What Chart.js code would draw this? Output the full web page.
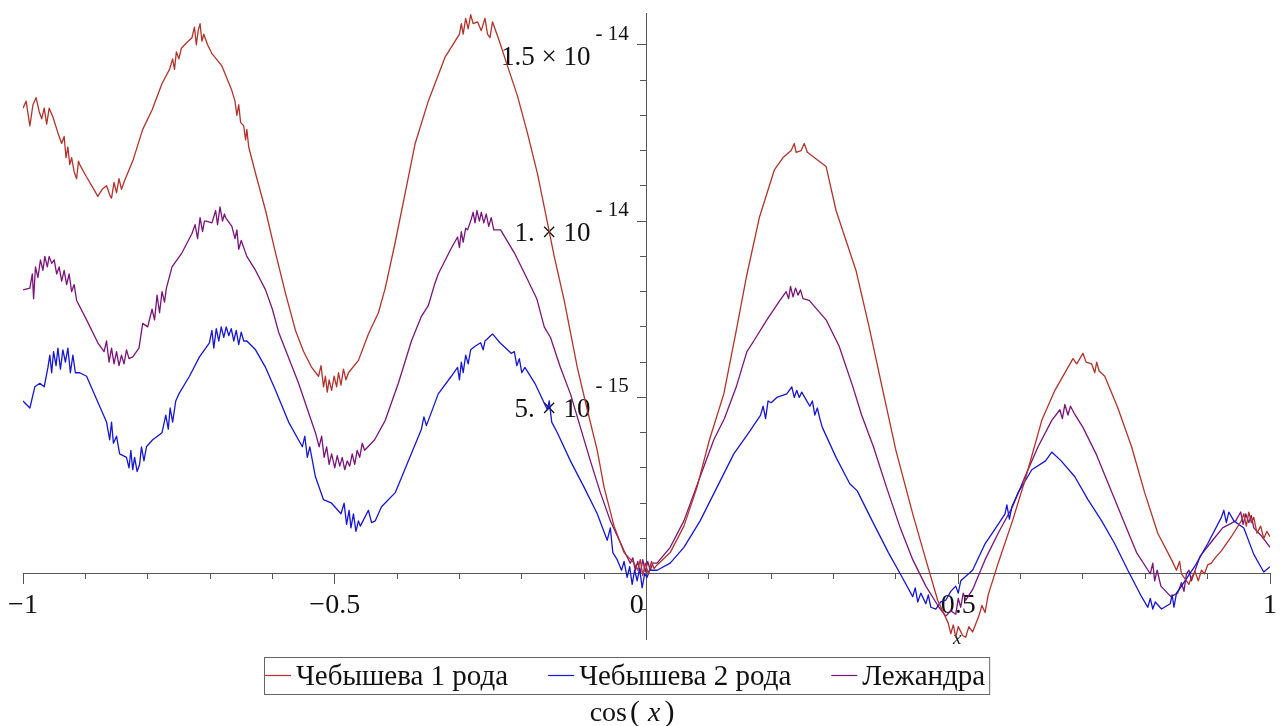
<!DOCTYPE html>
<html><head><meta charset="utf-8">
<script src="https://cdn.jsdelivr.net/npm/chart.js@4.4.0/dist/chart.umd.min.js"></script>
<style>html,body{margin:0;padding:0;background:#fff;overflow:hidden}canvas{display:block}</style>
</head><body>
<canvas id="c" width="1282" height="726"></canvas>
<script>
// y values are in units of 1e-15
const seriesNames = ['Чебышева 1 рода', 'Чебышева 2 рода', 'Лежандра'];
const seriesColors = ['#b3332b', '#1616d6', '#7a147a'];

const chebyshev1 = [
[-1.000,13.2],[-0.995,13.4],[-0.989,12.7],[-0.984,13.3],[-0.979,13.5],[-0.974,13.1],[-0.970,12.9],[-0.966,13.2],[-0.962,12.75],[-0.958,13.2],
[-0.952,12.95],[-0.944,12.5],[-0.938,12.2],[-0.934,12.4],[-0.931,11.8],[-0.928,12.1],[-0.925,11.6],[-0.922,11.8],[-0.918,11.4],[-0.914,11.2],
[-0.911,11.7],[-0.909,11.6],[-0.898,11.25],[-0.888,10.95],[-0.880,10.7],[-0.873,10.9],[-0.866,11.0],[-0.860,10.7],[-0.858,10.65],[-0.854,11.1],
[-0.850,10.8],[-0.846,11.2],[-0.842,10.9],[-0.837,11.15],[-0.824,11.7],[-0.808,12.6],[-0.793,13.15],[-0.777,13.9],[-0.765,14.3],[-0.760,14.6],
[-0.757,14.3],[-0.754,14.8],[-0.750,14.6],[-0.746,14.9],[-0.738,15.05],[-0.729,15.2],[-0.725,15.5],[-0.722,15.0],[-0.719,15.4],[-0.716,15.6],
[-0.713,15.1],[-0.710,15.3],[-0.704,15.0],[-0.697,14.75],[-0.681,14.4],[-0.665,13.7],[-0.660,13.4],[-0.657,13.0],[-0.654,13.3],[-0.651,12.8],
[-0.646,12.7],[-0.643,12.3],[-0.641,12.6],[-0.638,12.1],[-0.627,11.35],[-0.611,10.3],[-0.595,9.1],[-0.579,7.95],[-0.563,6.9],[-0.550,6.3],
[-0.537,5.85],[-0.526,5.6],[-0.522,5.9],[-0.518,5.3],[-0.515,5.6],[-0.512,5.15],[-0.509,5.5],[-0.505,5.2],[-0.501,5.6],[-0.497,5.3],
[-0.494,5.7],[-0.490,5.35],[-0.486,5.8],[-0.482,5.5],[-0.478,5.7],[-0.462,6.05],[-0.446,6.8],[-0.430,7.4],[-0.419,8.1],[-0.403,9.4],
[-0.387,10.8],[-0.371,12.2],[-0.350,13.4],[-0.323,14.65],[-0.307,15.1],[-0.300,15.3],[-0.297,15.6],[-0.294,15.3],[-0.290,15.75],[-0.286,15.45],
[-0.282,15.85],[-0.278,15.6],[-0.271,15.65],[-0.265,15.4],[-0.259,15.75],[-0.255,15.3],[-0.251,15.2],[-0.247,15.65],[-0.235,15.05],[-0.223,14.4],
[-0.207,13.55],[-0.191,12.5],[-0.175,11.35],[-0.164,10.4],[-0.148,9.0],[-0.132,7.75],[-0.111,5.85],[-0.095,4.65],[-0.079,3.5],[-0.068,2.45],
[-0.052,1.35],[-0.036,0.6],[-0.020,0.3],[-0.014,0.1],[-0.010,0.4],[-0.006,-0.05],[-0.002,0.3],[0.003,0.0],[0.008,0.35],[0.012,0.15],
[0.017,0.25],[0.038,0.6],[0.060,1.35],[0.081,2.45],[0.101,3.8],[0.124,5.1],[0.144,6.9],[0.160,8.4],[0.181,10.1],[0.205,11.45],
[0.219,11.8],[0.232,12.0],[0.237,12.2],[0.240,11.95],[0.248,12.0],[0.253,12.2],[0.258,11.95],[0.288,11.55],[0.304,10.3],[0.336,8.6],
[0.357,7.0],[0.379,5.2],[0.400,3.5],[0.427,1.7],[0.448,0.4],[0.467,-0.75],[0.484,-1.4],[0.488,-1.7],[0.492,-1.45],[0.496,-1.8],
[0.500,-1.5],[0.507,-1.75],[0.512,-1.8],[0.517,-1.5],[0.523,-1.65],[0.533,-1.2],[0.538,-0.9],[0.543,-1.1],[0.548,-0.6],[0.564,0.3],
[0.587,1.5],[0.607,2.65],[0.634,4.35],[0.655,5.2],[0.676,5.85],[0.684,6.1],[0.690,5.95],[0.700,6.25],[0.705,6.0],[0.714,5.95],
[0.719,5.7],[0.722,6.0],[0.726,5.75],[0.735,5.6],[0.756,4.7],[0.778,3.6],[0.799,2.3],[0.820,1.15],[0.842,0.4],[0.850,0.1],
[0.855,0.35],[0.858,0.0],[0.864,-0.15],[0.870,-0.3],[0.874,-0.1],[0.880,0.05],[0.885,-0.2],[0.890,0.1],[0.895,0.0],[0.900,0.25],
[0.906,0.3],[0.912,0.45],[0.922,0.65],[0.938,1.05],[0.954,1.5],[0.958,1.7],[0.962,1.35],[0.966,1.75],[0.970,1.45],[0.974,1.6],
[0.979,1.15],[0.985,1.35],[0.990,1.0],[0.995,1.2],[1.000,1.05]
];

const chebyshev2 = [
[-1.000,4.9],[-0.989,4.7],[-0.981,5.3],[-0.973,5.4],[-0.966,5.3],[-0.960,5.85],[-0.957,6.2],[-0.954,5.7],[-0.951,6.3],[-0.947,5.9],
[-0.944,6.4],[-0.940,5.8],[-0.936,6.35],[-0.932,6.0],[-0.928,6.4],[-0.924,5.7],[-0.920,6.2],[-0.916,5.7],[-0.909,5.7],[-0.898,5.6],
[-0.882,4.95],[-0.866,4.3],[-0.861,3.8],[-0.858,4.3],[-0.855,3.7],[-0.850,3.9],[-0.845,3.4],[-0.834,3.3],[-0.830,3.0],[-0.827,3.5],
[-0.824,2.95],[-0.821,3.3],[-0.817,2.9],[-0.813,3.1],[-0.810,3.6],[-0.806,3.2],[-0.802,3.6],[-0.792,3.8],[-0.777,4.0],[-0.771,4.5],
[-0.767,4.1],[-0.764,4.7],[-0.760,4.3],[-0.755,4.9],[-0.750,5.1],[-0.733,5.6],[-0.717,6.15],[-0.701,6.55],[-0.697,6.9],[-0.694,6.4],
[-0.690,6.95],[-0.686,6.6],[-0.682,7.0],[-0.678,6.7],[-0.674,7.0],[-0.670,6.75],[-0.666,6.95],[-0.662,6.6],[-0.658,6.9],[-0.654,6.5],
[-0.650,6.85],[-0.646,6.6],[-0.641,6.6],[-0.627,6.35],[-0.611,5.85],[-0.595,5.2],[-0.574,4.3],[-0.552,3.6],[-0.548,3.9],[-0.544,3.3],
[-0.540,3.6],[-0.531,2.75],[-0.518,2.1],[-0.505,2.0],[-0.490,1.7],[-0.485,2.0],[-0.481,1.4],[-0.477,1.8],[-0.474,1.3],[-0.470,1.7],
[-0.466,1.2],[-0.462,1.5],[-0.459,1.35],[-0.446,1.8],[-0.441,1.45],[-0.435,1.5],[-0.425,1.9],[-0.403,2.3],[-0.382,3.2],[-0.361,4.1],
[-0.357,4.45],[-0.353,4.2],[-0.334,5.1],[-0.313,5.6],[-0.303,5.85],[-0.300,5.5],[-0.297,6.0],[-0.294,5.7],[-0.290,6.2],[-0.286,5.95],
[-0.282,6.35],[-0.275,6.45],[-0.266,6.55],[-0.262,6.35],[-0.259,6.6],[-0.247,6.8],[-0.235,6.55],[-0.217,6.25],[-0.212,6.3],[-0.208,5.9],
[-0.204,6.1],[-0.200,5.7],[-0.195,5.85],[-0.179,5.4],[-0.159,4.65],[-0.156,4.9],[-0.152,4.3],[-0.143,4.0],[-0.122,3.2],[-0.100,2.45],
[-0.079,1.7],[-0.063,0.95],[-0.058,1.3],[-0.054,0.6],[-0.047,0.4],[-0.040,0.1],[-0.036,0.35],[-0.031,-0.1],[-0.027,0.2],[-0.023,-0.3],
[-0.019,0.1],[-0.015,-0.2],[-0.011,0.15],[-0.007,-0.4],[-0.003,0.0],[0.001,-0.1],[0.005,0.1],[0.017,0.1],[0.038,0.3],[0.060,0.75],
[0.086,1.5],[0.113,2.45],[0.140,3.4],[0.166,4.05],[0.183,4.5],[0.187,4.75],[0.191,4.4],[0.195,4.9],[0.200,4.85],[0.209,5.0],
[0.225,5.1],[0.233,5.3],[0.237,5.0],[0.241,5.2],[0.245,5.0],[0.249,5.15],[0.257,4.9],[0.262,4.75],[0.266,4.9],[0.270,4.5],
[0.274,4.7],[0.278,4.4],[0.282,4.15],[0.304,3.3],[0.326,2.55],[0.338,2.35],[0.362,1.5],[0.388,0.6],[0.410,-0.1],[0.427,-0.65],
[0.431,-0.4],[0.435,-0.8],[0.440,-0.55],[0.448,-0.85],[0.452,-0.6],[0.456,-0.95],[0.464,-1.0],[0.472,-0.8],[0.480,-0.75],[0.488,-0.5],
[0.496,-0.35],[0.500,-0.55],[0.504,-0.2],[0.523,0.1],[0.543,0.85],[0.564,1.4],[0.575,1.7],[0.578,1.95],[0.582,1.55],[0.586,1.9],
[0.596,2.3],[0.618,2.95],[0.640,3.2],[0.650,3.45],[0.665,3.2],[0.687,2.75],[0.708,2.1],[0.730,1.5],[0.751,0.85],[0.772,0.1],
[0.794,-0.65],[0.804,-0.95],[0.808,-0.7],[0.812,-1.0],[0.816,-0.8],[0.826,-1.0],[0.840,-0.85],[0.843,-0.6],[0.846,-0.95],[0.850,-0.55],
[0.858,-0.35],[0.879,0.2],[0.900,0.85],[0.922,1.6],[0.926,1.8],[0.930,1.45],[0.934,1.75],[0.942,1.5],[0.958,1.3],[0.974,0.55],
[0.990,0.05],[1.000,0.2]
];

const legendre = [
[-1.000,8.05],[-0.989,8.1],[-0.985,8.5],[-0.983,7.8],[-0.980,8.7],[-0.976,8.4],[-0.972,8.9],[-0.968,8.6],[-0.965,9.0],[-0.961,8.7],
[-0.958,9.0],[-0.954,8.8],[-0.950,8.9],[-0.946,8.5],[-0.942,8.7],[-0.938,8.3],[-0.934,8.6],[-0.930,8.2],[-0.926,8.5],[-0.922,8.0],
[-0.918,8.2],[-0.914,7.75],[-0.898,7.2],[-0.880,6.55],[-0.870,6.3],[-0.866,6.6],[-0.862,6.0],[-0.858,6.4],[-0.854,5.95],[-0.850,6.3],
[-0.846,5.9],[-0.842,6.2],[-0.838,5.95],[-0.834,6.35],[-0.830,6.1],[-0.824,6.15],[-0.814,6.4],[-0.808,7.1],[-0.800,7.0],[-0.793,7.5],
[-0.789,7.2],[-0.785,7.9],[-0.781,7.4],[-0.777,8.0],[-0.773,7.7],[-0.770,8.1],[-0.761,8.7],[-0.745,9.1],[-0.729,9.65],[-0.724,9.9],
[-0.720,9.5],[-0.716,10.1],[-0.712,9.7],[-0.709,10.0],[-0.706,10.0],[-0.697,9.95],[-0.691,10.3],[-0.688,9.9],[-0.684,10.4],[-0.680,10.0],
[-0.677,10.2],[-0.675,10.1],[-0.665,9.85],[-0.660,9.5],[-0.657,9.75],[-0.654,9.2],[-0.650,9.45],[-0.641,9.0],[-0.627,8.6],[-0.611,8.05],
[-0.600,7.5],[-0.590,6.85],[-0.558,5.4],[-0.531,4.0],[-0.525,3.6],[-0.521,3.9],[-0.517,3.3],[-0.513,3.6],[-0.509,3.1],[-0.505,3.4],
[-0.500,3.0],[-0.496,3.35],[-0.492,3.05],[-0.488,3.3],[-0.484,2.95],[-0.480,3.2],[-0.476,3.05],[-0.472,3.4],[-0.468,3.1],[-0.464,3.5],
[-0.460,3.3],[-0.456,3.7],[-0.452,3.5],[-0.436,3.8],[-0.419,4.35],[-0.398,5.4],[-0.377,6.6],[-0.361,7.3],[-0.350,7.6],[-0.340,8.2],
[-0.334,8.5],[-0.314,9.2],[-0.303,9.55],[-0.300,9.25],[-0.297,9.7],[-0.294,9.4],[-0.290,9.8],[-0.287,9.75],[-0.282,10.0],[-0.278,10.25],
[-0.275,9.95],[-0.272,10.3],[-0.268,10.0],[-0.265,10.25],[-0.261,9.95],[-0.257,10.2],[-0.253,9.85],[-0.249,10.1],[-0.245,9.75],[-0.234,9.75],
[-0.212,9.1],[-0.191,8.35],[-0.176,7.8],[-0.164,7.0],[-0.154,6.7],[-0.138,5.85],[-0.122,5.1],[-0.106,4.15],[-0.090,3.2],[-0.074,2.3],
[-0.058,1.5],[-0.036,0.65],[-0.026,0.3],[-0.022,0.45],[-0.018,0.1],[-0.014,0.35],[-0.010,0.0],[-0.006,0.4],[-0.002,0.05],[0.002,0.35],
[0.006,0.1],[0.010,0.3],[0.017,0.3],[0.038,0.75],[0.060,1.5],[0.086,2.75],[0.108,3.8],[0.125,4.4],[0.144,5.3],[0.161,6.3],
[0.172,6.6],[0.193,7.2],[0.214,7.75],[0.224,8.0],[0.228,7.8],[0.231,8.15],[0.235,7.85],[0.239,8.1],[0.243,7.9],[0.247,8.05],
[0.251,7.8],[0.261,7.75],[0.288,7.2],[0.309,6.45],[0.331,5.3],[0.345,4.5],[0.364,3.6],[0.385,2.45],[0.406,1.35],[0.427,0.4],
[0.448,-0.35],[0.469,-0.95],[0.480,-1.2],[0.488,-1.05],[0.496,-1.15],[0.500,-0.7],[0.504,-0.95],[0.508,-0.55],[0.512,-0.75],[0.523,-0.45],
[0.543,0.4],[0.564,1.15],[0.587,1.9],[0.607,2.75],[0.628,3.6],[0.650,4.35],[0.663,4.65],[0.667,4.4],[0.671,4.8],[0.676,4.5],
[0.680,4.75],[0.686,4.55],[0.700,4.15],[0.721,3.4],[0.743,2.45],[0.765,1.5],[0.786,0.6],[0.808,0.0],[0.812,0.3],[0.815,-0.2],
[0.819,0.1],[0.825,-0.35],[0.841,-0.65],[0.852,-0.55],[0.858,-0.25],[0.862,-0.5],[0.866,0.0],[0.870,0.1],[0.874,-0.2],[0.888,0.5],
[0.908,0.95],[0.924,1.3],[0.945,1.5],[0.953,1.75],[0.957,1.4],[0.961,1.7],[0.966,1.45],[0.970,1.65],[0.974,1.3],[0.985,1.1],
[1.000,0.75]
];

const xTickValues = [-1, -0.5, 0, 0.5, 1];
const xTickLabels = ['\u22121', '\u22120.5', '0\u2002\u2009', '0.5', '1'];
const yTickValues = [5, 10, 15];
const yTickMantissa = ['5. \u00d7 10', '1. \u00d7 10', '1.5 \u00d7 10'];
const yTickExponent = ['- 15', '- 14', '- 14'];
const xRange = [-1, 1];
const yRange = [-1.85, 15.9];

const SERIF = '"Liberation Serif", "Times New Roman", serif';
const AXIS_COLOR = '#555';
const TEXT_COLOR = '#111';

function toPoints(pairs) { return pairs.map(p => ({x: p[0], y: p[1]})); }
function keepMultiples(step) {
  return function (scale) {
    scale.ticks = scale.ticks.filter(t => {
      const k = t.value / step;
      return Math.abs(k - Math.round(k)) < 1e-6;
    });
  };
}

const allSeries = [chebyshev1, chebyshev2, legendre];
const datasets = allSeries.map((s, i) => ({
  label: seriesNames[i],
  data: toPoints(s),
  borderColor: seriesColors[i],
  backgroundColor: seriesColors[i],
  borderWidth: 1.3,
  borderJoinStyle: 'round',
  pointRadius: 0,
  showLine: true,
  fill: false,
  tension: 0,
  xAxisID: 'x',
  yAxisID: 'y'
}));

const decorPlugin = {
  id: 'decor',
  beforeDatasetsDraw(chart) {
    const {ctx, scales} = chart;
    const xs = scales.x, ys = scales.y;
    const axisX = xs.getPixelForValue(0);
    ctx.save();
    ctx.fillStyle = TEXT_COLOR;
    ctx.textBaseline = 'alphabetic';
    yTickValues.forEach((v, i) => {
      const py = ys.getPixelForValue(v);
      ctx.font = '27px ' + SERIF;
      ctx.textAlign = 'right';
      ctx.fillText(yTickMantissa[i], axisX - 56, py + 20);
      ctx.font = '21px ' + SERIF;
      ctx.textAlign = 'left';
      ctx.fillText(yTickExponent[i], axisX - 51, py - 5);
    });
    ctx.font = 'italic 19px ' + SERIF;
    ctx.textAlign = 'center';
    ctx.fillText('x', xs.getPixelForValue(0.5) - 1, chart.chartArea.bottom + 5);
    ctx.restore();
  },
  afterDraw(chart) {
    const {ctx, chartArea} = chart;
    ctx.save();
    // legend
    ctx.font = '29px ' + SERIF;
    const lineLen = 26, gapText = 5, gapItem = 40, padL = 1, padR = 4;
    const widths = seriesNames.map(n => ctx.measureText(n).width);
    let total = padL + padR;
    widths.forEach((w, i) => { total += lineLen + gapText + w + (i < widths.length - 1 ? gapItem : 0); });
    const boxLeft = Math.round(627 - total / 2);
    const top = chartArea.bottom + 18, h = 37;
    const midY = top + 18.5;
    let x = boxLeft + padL;
    seriesNames.forEach((name, i) => {
      ctx.strokeStyle = seriesColors[i];
      ctx.lineWidth = 1.2;
      ctx.beginPath(); ctx.moveTo(x, midY); ctx.lineTo(x + lineLen, midY); ctx.stroke();
      ctx.fillStyle = TEXT_COLOR;
      ctx.textAlign = 'left';
      ctx.textBaseline = 'alphabetic';
      ctx.fillText(name, x + lineLen + gapText, top + 28);
      x += lineLen + gapText + widths[i] + gapItem;
    });
    ctx.strokeStyle = '#666';
    ctx.lineWidth = 1;
    ctx.strokeRect(boxLeft + 0.5, top + 0.5, total, h);
    // caption cos(x)
    const base = 721;
    const parts = [
      {t: 'cos', f: '28px ' + SERIF, gap: 3},
      {t: '(', f: '30px ' + SERIF, gap: 8},
      {t: 'x', f: 'italic 28px ' + SERIF, gap: 4},
      {t: ')', f: '30px ' + SERIF, gap: 0}
    ];
    let tw = 0;
    parts.forEach(p => { ctx.font = p.f; p.w = ctx.measureText(p.t).width; tw += p.w + p.gap; });
    let cx = 632 - tw / 2;
    ctx.fillStyle = TEXT_COLOR;
    parts.forEach(p => { ctx.font = p.f; ctx.fillText(p.t, cx, base); cx += p.w + p.gap; });
    ctx.restore();
  }
};

new Chart(document.getElementById('c'), {
  type: 'scatter',
  data: { datasets },
  options: {
    responsive: false,
    animation: false,
    devicePixelRatio: 1,
    layout: { padding: { left: 23, right: 6, top: 13, bottom: 87 } },
    plugins: { legend: { display: false }, tooltip: { enabled: false }, title: { display: false } },
    scales: {
      x: {
        type: 'linear', axis: 'x', position: { y: 0 }, min: xRange[0], max: xRange[1],
        ticks: { stepSize: 0.1, display: false },
        grid: { display: true, drawOnChartArea: false, drawTicks: true, tickLength: 5, color: AXIS_COLOR, lineWidth: 1 },
        border: { display: true, color: AXIS_COLOR, width: 1 },
        afterBuildTicks: keepMultiples(0.1)
      },
      x2: {
        type: 'linear', axis: 'x', position: { y: 0 }, min: xRange[0], max: xRange[1],
        ticks: {
          stepSize: 0.5, display: true, padding: 5, color: TEXT_COLOR, autoSkip: false, maxRotation: 0,
          font: { family: 'Liberation Serif', size: 28 },
          callback: function (value) {
            const i = xTickValues.findIndex(v => Math.abs(v - value) < 1e-9);
            return i >= 0 ? xTickLabels[i] : '';
          }
        },
        grid: { display: true, drawOnChartArea: false, drawTicks: true, tickLength: 10, color: AXIS_COLOR, lineWidth: 1 },
        border: { display: false },
        afterBuildTicks: keepMultiples(0.5)
      },
      y: {
        type: 'linear', axis: 'y', position: { x: 0 }, min: yRange[0], max: yRange[1],
        ticks: { stepSize: 1, display: false },
        grid: { display: true, drawOnChartArea: false, drawTicks: true, tickLength: 6, color: AXIS_COLOR, lineWidth: 1 },
        border: { display: true, color: AXIS_COLOR, width: 1 },
        afterBuildTicks: keepMultiples(1)
      },
      y2: {
        type: 'linear', axis: 'y', position: { x: 0 }, min: yRange[0], max: yRange[1],
        ticks: { stepSize: 5, display: false },
        grid: { display: true, drawOnChartArea: false, drawTicks: true, tickLength: 10, color: AXIS_COLOR, lineWidth: 1 },
        border: { display: false },
        afterBuildTicks: keepMultiples(5)
      }
    }
  },
  plugins: [decorPlugin]
});
</script>
</body></html>
